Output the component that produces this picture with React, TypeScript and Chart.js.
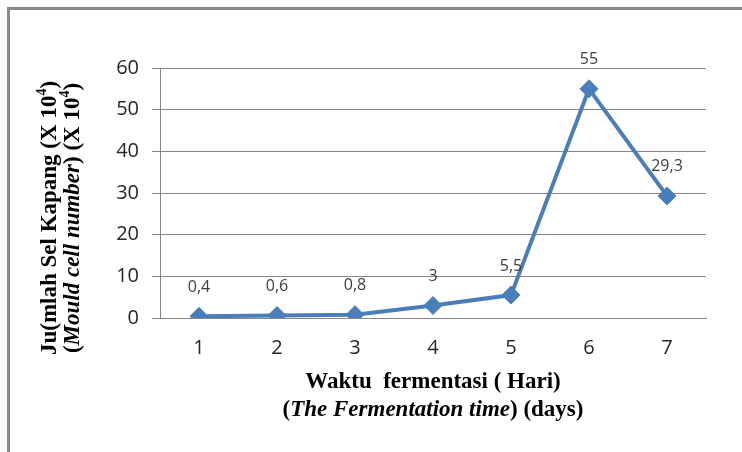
import React, { useEffect, useRef } from "react";
import { Chart, registerables } from "chart.js";

Chart.register(...registerables);

const days = ["1", "2", "3", "4", "5", "6", "7"];
const mouldCells = [0.4, 0.6, 0.8, 3, 5.5, 55, 29.3];
const pointLabels = ["0,4", "0,6", "0,8", "3", "5,5", "55", "29,3"];
const yMin = 0;
const yMax = 60;
const yStep = 10;

type Seg = { t: string; i?: boolean; sup?: boolean };

const yTitle1: Seg[] = [{ t: "Ju(mlah Sel Kapang (X 10" }, { t: "4", sup: true }, { t: ")" }];
const yTitle2: Seg[] = [
  { t: "(" },
  { t: "Mould cell number", i: true },
  { t: ") (X 10" },
  { t: "4", sup: true },
  { t: ")" },
];
const xTitle1: Seg[] = [{ t: "Waktu  fermentasi ( Hari)" }];
const xTitle2: Seg[] = [
  { t: "(" },
  { t: "The Fermentation time", i: true },
  { t: ") (days)" },
];

const SERIF = "'Liberation Serif', 'Times New Roman', serif";
const SANS = "'Open Sans', 'Noto Sans', sans-serif";

function segFont(s: Seg, size: number) {
  const sz = s.sup ? Math.round(size * 0.6) : size;
  return `${s.i ? "italic " : ""}bold ${sz}px ${SERIF}`;
}

function drawSegs(ctx: CanvasRenderingContext2D, segs: Seg[], cx: number, baseY: number, size: number) {
  let total = 0;
  const widths = segs.map((s) => {
    ctx.font = segFont(s, size);
    const w = ctx.measureText(s.t).width;
    total += w;
    return w;
  });
  let x = cx - total / 2;
  ctx.textAlign = "left";
  ctx.textBaseline = "alphabetic";
  segs.forEach((s, k) => {
    ctx.font = segFont(s, size);
    ctx.fillText(s.t, x, s.sup ? baseY - size * 0.45 : baseY);
    x += widths[k];
  });
}

const annotations = {
  id: "annotations",
  afterDraw(chart: any) {
    const ctx: CanvasRenderingContext2D = chart.ctx;
    const meta = chart.getDatasetMeta(0);
    ctx.save();
    ctx.fillStyle = "#404040";
    ctx.font = `16px ${SANS}`;
    ctx.textAlign = "center";
    ctx.textBaseline = "middle";
    meta.data.forEach((pt: any, k: number) => {
      ctx.fillText(pointLabels[k], pt.x, pt.y - 29);
    });
    ctx.restore();

    const area = chart.chartArea;
    ctx.save();
    ctx.fillStyle = "#000000";
    const cx = (area.left + area.right) / 2;
    drawSegs(ctx, xTitle1, cx, 388, 23);
    drawSegs(ctx, xTitle2, cx, 416, 23);
    ctx.restore();

    ctx.save();
    ctx.fillStyle = "#000000";
    ctx.translate(56, 218);
    ctx.rotate(-Math.PI / 2);
    drawSegs(ctx, yTitle1, 0, 0, 23);
    ctx.restore();
    ctx.save();
    ctx.fillStyle = "#000000";
    ctx.translate(79, 218);
    ctx.rotate(-Math.PI / 2);
    drawSegs(ctx, yTitle2, 0, 0, 23);
    ctx.restore();
  },
};

export default function App() {
  const ref = useRef<HTMLCanvasElement>(null);
  useEffect(() => {
    if (!ref.current) return;
    const chart = new Chart(ref.current, {
      type: "line",
      data: {
        labels: days,
        datasets: [
          {
            data: mouldCells,
            borderColor: "#4A7EBB",
            backgroundColor: "#4A7EBB",
            borderWidth: 4,
            pointStyle: "rectRot",
            pointRadius: 9,
            pointBorderWidth: 1,
            tension: 0,
          },
        ],
      },
      options: {
        responsive: false,
        animation: false,
        layout: { padding: { left: 0, right: 36, top: 68, bottom: 0 } },
        plugins: { legend: { display: false }, tooltip: { enabled: false } },
        scales: {
          x: {
            offset: true,
            grid: { display: false, drawTicks: false },
            border: { display: true, color: "#868686", width: 1 },
            ticks: { padding: 18, color: "#262626", font: { family: SANS, size: 20 } },
            afterFit: (s: any) => {
              s.height = 134;
            },
          },
          y: {
            min: yMin,
            max: yMax,
            ticks: { stepSize: yStep, padding: 13, color: "#262626", font: { family: SANS, size: 20 } },
            grid: { color: "#868686", lineWidth: 1, tickLength: 8 },
            border: { display: true, color: "#868686", width: 1 },
            afterFit: (s: any) => {
              s.width = 160;
            },
          },
        },
      },
      plugins: [annotations],
    });
    return () => chart.destroy();
  }, []);
  return (
    <div style={{ position: "fixed", left: 0, top: 0, width: 742, height: 452, overflow: "hidden", background: "#ffffff" }}>
      <div
        style={{
          position: "absolute",
          left: 7,
          top: 7,
          width: 800,
          height: 500,
          border: "3px solid #8a8a8a",
        }}
      />
      <canvas ref={ref} width={742} height={452} style={{ position: "absolute", left: 0, top: 0 }} />
    </div>
  );
}
